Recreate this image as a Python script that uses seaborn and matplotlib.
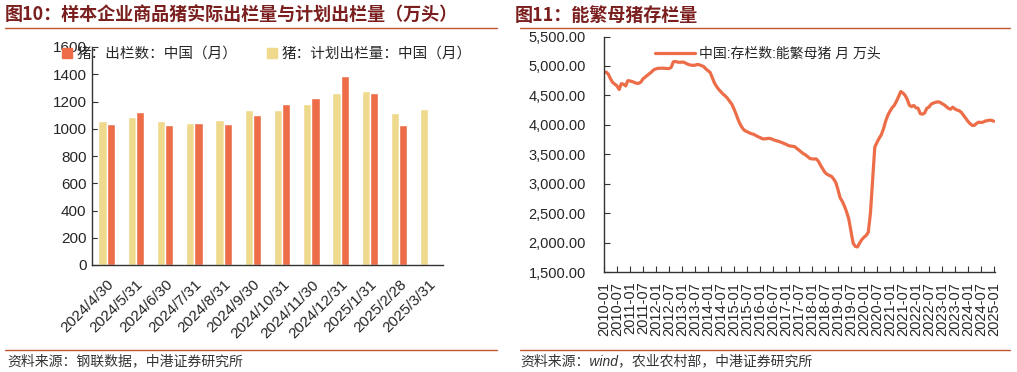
import matplotlib
matplotlib.use("Agg")
from matplotlib import pyplot as plt
from matplotlib.lines import Line2D
from matplotlib.patches import Patch
import matplotlib.ticker as mticker
import pandas as pd
import numpy as np
import seaborn as sns

# ---- data: left chart (bars) ----
bar_dates = ["2024/4/30", "2024/5/31", "2024/6/30", "2024/7/31", "2024/8/31", "2024/9/30",
             "2024/10/31", "2024/11/30", "2024/12/31", "2025/1/31", "2025/2/28", "2025/3/31"]
planned = [1055, 1085, 1060, 1040, 1065, 1135, 1135, 1185, 1265, 1280, 1115, 1145]
actual = [1035, 1125, 1025, 1045, 1035, 1100, 1185, 1225, 1385, 1260, 1030, np.nan]
label_actual = "猪：出栏数：中国（月）"
label_plan = "猪：计划出栏量：中国（月）"

# ---- data: right chart (monthly sow inventory, 2010-01 .. 2025-01) ----
sows_2010 = [4890, 4895, 4860, 4780, 4720, 4690, 4660, 4600, 4700, 4690, 4660, 4750]
sows_2011 = [4745, 4735, 4720, 4705, 4705, 4725, 4780, 4810, 4840, 4870, 4900, 4935]
sows_2012 = [4950, 4960, 4960, 4962, 4960, 4958, 4955, 4975, 5070, 5075, 5065, 5062]
sows_2013 = [5065, 5062, 5040, 5025, 5015, 5010, 5012, 5025, 5020, 5005, 4990, 4950]
sows_2014 = [4920, 4890, 4800, 4710, 4650, 4600, 4560, 4520, 4490, 4450, 4400, 4350]
sows_2015 = [4270, 4180, 4080, 4000, 3940, 3900, 3885, 3865, 3850, 3840, 3820, 3800]
sows_2016 = [3785, 3765, 3760, 3765, 3770, 3765, 3750, 3735, 3725, 3715, 3700, 3685]
sows_2017 = [3670, 3650, 3640, 3635, 3630, 3600, 3570, 3540, 3510, 3490, 3460, 3430]
sows_2018 = [3420, 3420, 3420, 3380, 3310, 3250, 3190, 3160, 3140, 3125, 3080, 3020]
sows_2019 = [2900, 2760, 2700, 2620, 2520, 2400, 2200, 1990, 1935, 1925, 1990, 2050]
sows_2020 = [2090, 2120, 2175, 2500, 3060, 3620, 3700, 3770, 3830, 3930, 4060, 4160]
sows_2021 = [4230, 4290, 4330, 4400, 4480, 4565, 4540, 4500, 4430, 4330, 4310, 4329]
sows_2022 = [4290, 4280, 4190, 4180, 4200, 4280, 4300, 4350, 4370, 4380, 4390, 4385]
sows_2023 = [4360, 4340, 4310, 4280, 4265, 4300, 4270, 4250, 4240, 4210, 4160, 4110]
sows_2024 = [4060, 4020, 3990, 3990, 4025, 4045, 4040, 4045, 4065, 4070, 4080, 4075]
sows_2025 = [4060]
line_label = "中国:存栏数:能繁母猪 月 万头"

sows = (sows_2010 + sows_2011 + sows_2012 + sows_2013 + sows_2014 + sows_2015 + sows_2016
        + sows_2017 + sows_2018 + sows_2019 + sows_2020 + sows_2021 + sows_2022 + sows_2023
        + sows_2024 + sows_2025)
months = pd.date_range("2010-01-01", periods=len(sows), freq="MS")

ORANGE = "#EC6D47"
YELLOW = "#EFD98D"
TITLE_RED = "#7A1E1E"
RULE_RED = "#C4562F"

sns.set_style("white")
plt.rcParams["font.family"] = ["Liberation Sans", "Noto Sans CJK SC"]
plt.rcParams["axes.unicode_minus"] = False

fig = plt.figure(figsize=(10.17, 3.72), dpi=100)

# titles, rules and sources
fig.text(5 / 1017, 1 - 15 / 372, "图10：样本企业商品猪实际出栏量与计划出栏量（万头）",
         fontsize=13, fontweight="bold", color=TITLE_RED, va="center", ha="left",
         family=["Noto Sans CJK SC"])
fig.text(515 / 1017, 1 - 15 / 372, "图11：能繁母猪存栏量",
         fontsize=13, fontweight="bold", color=TITLE_RED, va="center", ha="left",
         family=["Noto Sans CJK SC"])
for x0, x1 in [(5, 497), (520, 1010)]:
    for yy in (28, 350):
        fig.add_artist(Line2D([x0 / 1017, x1 / 1017], [1 - yy / 372, 1 - yy / 372],
                              transform=fig.transFigure, color=RULE_RED, lw=1.0))
fig.text(7 / 1017, 1 - 361 / 372, "资料来源：钢联数据，中港证券研究所",
         fontsize=10, color="#333333", va="center", ha="left", style="italic")
fig.text(520 / 1017, 1 - 361 / 372, "资料来源：wind，农业农村部，中港证券研究所",
         fontsize=10, color="#333333", va="center", ha="left", style="italic")

# ---- left chart ----
ax1 = fig.add_axes([92 / 1017, 1 - 265 / 372, 351 / 1017, 218 / 372])
df_bar = pd.DataFrame({
    "date": bar_dates * 2,
    "series": [label_plan] * len(bar_dates) + [label_actual] * len(bar_dates),
    "value": planned + actual,
})
sns.barplot(data=df_bar, x="date", y="value", hue="series", order=bar_dates,
            hue_order=[label_plan, label_actual], palette=[YELLOW, ORANGE],
            width=0.57, gap=0, legend=False, ax=ax1, saturation=1)
ax1.set_ylim(0, 1600)
ax1.set_xlim(-0.5, len(bar_dates) - 0.5)
ax1.set_yticks(np.arange(0, 1601, 200))
ax1.set_xlabel("")
ax1.set_ylabel("")
ax1.set_xticks(np.arange(len(bar_dates)))
ax1.set_xticklabels(bar_dates, rotation=45, ha="right", rotation_mode="anchor")
ax1.set_xticks(np.arange(len(bar_dates)) + 0.5, minor=True)
ax1.tick_params(axis="x", which="major", length=0, pad=9, labelsize=11)
ax1.tick_params(axis="x", which="minor", direction="in", length=4, color="#333333")
ax1.tick_params(axis="y", direction="in", length=4, pad=4, labelsize=11, color="#333333", left=True)
for side in ("top", "right"):
    ax1.spines[side].set_visible(False)
for side in ("left", "bottom"):
    ax1.spines[side].set_color("#333333")
    ax1.spines[side].set_linewidth(1.0)

fig.legend(handles=[Patch(color=ORANGE, label=label_actual), Patch(color=YELLOW, label=label_plan)],
           loc="center left", bbox_to_anchor=(62 / 1017, 1 - 54 / 372), ncol=2, frameon=False,
           fontsize=10.5, handlelength=0.7, handleheight=0.7, handletextpad=0.3, columnspacing=2.0,
           borderpad=0, borderaxespad=0)

# ---- right chart ----
ax2 = fig.add_axes([604 / 1017, 1 - 272 / 372, 391 / 1017, 235.5 / 372])
df_line = pd.DataFrame({"idx": np.arange(len(sows)), "value": sows})
sns.lineplot(data=df_line, x="idx", y="value", color=ORANGE, lw=2.3, ax=ax2, label=line_label)
ax2.set_xlim(0, len(sows) - 0.5)
ax2.set_ylim(1500, 5500)
ax2.set_yticks(np.arange(1500, 5501, 500))
ax2.yaxis.set_major_formatter(mticker.StrMethodFormatter("{x:,.2f}"))
tick_idx = np.arange(0, len(sows), 6)
ax2.set_xticks(tick_idx)
ax2.set_xticklabels([months[i].strftime("%Y-%m") for i in tick_idx], rotation=90)
ax2.set_xlabel("")
ax2.set_ylabel("")
ax2.tick_params(axis="x", direction="in", length=4, pad=7, labelsize=10.5, color="#333333", bottom=True)
ax2.tick_params(axis="y", direction="in", length=4, pad=13, labelsize=10.5, color="#333333", left=True)
for side in ("top", "right"):
    ax2.spines[side].set_visible(False)
for side in ("left", "bottom"):
    ax2.spines[side].set_color("#333333")
    ax2.spines[side].set_linewidth(1.0)
ax2.legend(loc="center left", bbox_to_anchor=((655 - 604) / 391, (272 - 54) / 235.5), frameon=False,
           fontsize=10, handlelength=2.9, handletextpad=0.3, borderpad=0, borderaxespad=0)

fig.savefig("out.png", dpi=100)
